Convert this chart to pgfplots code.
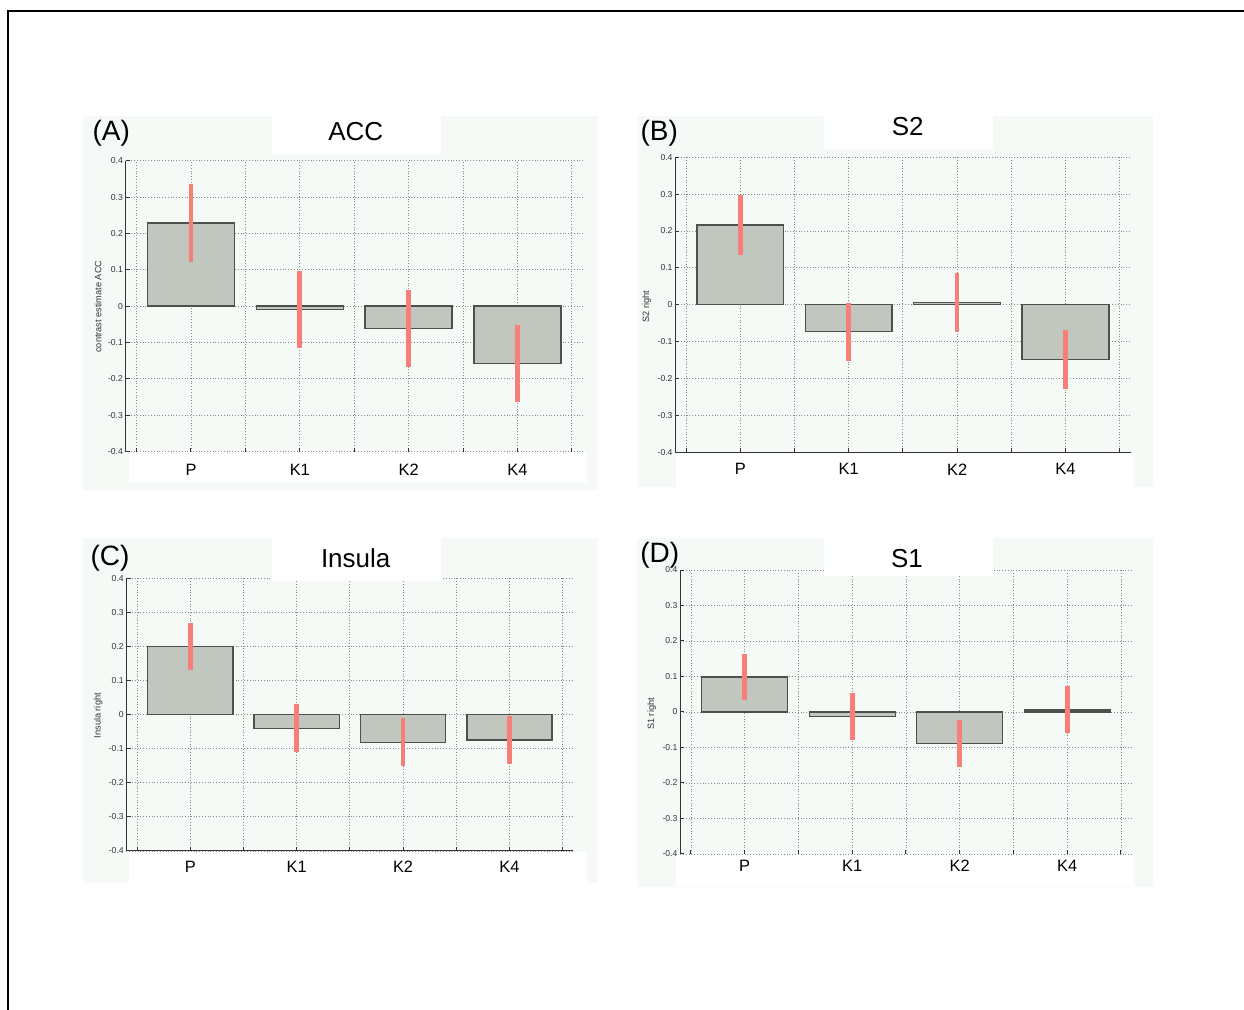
\documentclass[border=0pt]{standalone}
\usepackage{pgfplots}
\pgfplotsset{compat=1.18}
\usepackage{pgfplotstable}
\usepackage{fontspec}
\setmainfont{Liberation Sans}
\definecolor{bgc}{HTML}{F6FAF6}
\definecolor{barc}{HTML}{C1C7BF}
\definecolor{edgec}{HTML}{4E504E}
\definecolor{errc}{HTML}{F77F7A}
\definecolor{gridc}{HTML}{8A8A8A}
\definecolor{tickc}{HTML}{333333}

\pgfplotstableread{
x v e
1 0.229 0.107
2 -0.009 0.106
3 -0.061 0.106
4 -0.157 0.106
}\dA
\pgfplotstableread{
x v e
1 0.216 0.081
2 -0.073 0.079
3 0.007 0.080
4 -0.148 0.080
}\dB
\pgfplotstableread{
x v e
1 0.200 0.070
2 -0.040 0.070
3 -0.081 0.070
4 -0.074 0.071
}\dC
\pgfplotstableread{
x v e
1 0.099 0.064
2 -0.013 0.066
3 -0.089 0.066
4 0.006 0.066
}\dD

\pgfplotsset{
 panel/.style={
  scale only axis, anchor=south west,
  xmin=0.4, xmax=4.6, ymin=-0.4, ymax=0.4,
  axis lines=left, axis line style={-, draw=tickc, line width=0.5pt},
  xtick={0.5,1,1.5,2,2.5,3,3.5,4,4.5},
  xticklabels={,P,,K1,,K2,,K4,},
  ytick={-0.4,-0.3,-0.2,-0.1,0,0.1,0.2,0.3,0.4},
  yticklabels={-0.4,-0.3,-0.2,-0.1,0,0.1,0.2,0.3,0.4},
  tick align=inside, major tick length=2pt,
  tick style={draw=tickc, line width=0.5pt},
  grid=major, grid style={draw=gridc, line width=0.45pt, dash pattern=on 0.5pt off 0.9pt},
  yticklabel style={font=\fontsize{4.3}{5}\selectfont, text=tickc, inner sep=1.2pt},
  xticklabel style={font=\fontsize{8.2}{10}\selectfont, anchor=center},
  clip=false,
 },
 bars/.style={ybar, bar width=0.8, fill=barc, draw=edgec, line width=0.7pt},
 errs/.style={draw=none, mark=none, error bars/.cd, y dir=both, y explicit, error mark=none, error bar style={draw=errc, line width=2.35pt, solid}},
}

\begin{document}
\begin{tikzpicture}
\useasboundingbox (0pt,0pt) rectangle (622pt,505pt);
\fill[white] (0pt,0pt) rectangle (622pt,505pt);
\draw[line width=1pt] (4.15pt,-2.5pt) -- (4.15pt,499.5pt) -- (630pt,499.5pt);
% panel backgrounds
\fill[bgc] (41.5pt,260pt) rectangle (299pt,447pt);
\fill[bgc] (318.85pt,261.5pt) rectangle (576.5pt,447pt);
\fill[bgc] (41.5pt,63.5pt) rectangle (299pt,236pt);
\fill[bgc] (318.35pt,61.5pt) rectangle (576.5pt,236pt);
% bottom white boxes
\fill[white] (64.5pt,263.5pt) rectangle (293.5pt,279.5pt);
\fill[white] (337.85pt,261.5pt) rectangle (567pt,278.35pt);
\fill[white] (64.5pt,63.5pt) rectangle (293.5pt,79.15pt);
\fill[white] (337.85pt,62pt) rectangle (567pt,78pt);

\begin{axis}[panel, at={(62.85pt,279.15pt)}, width=228.5pt, height=145.5pt,
  x axis line style={draw=none}, xticklabel style={yshift=-9.15pt}]
\addplot[bars] table[x=x,y=v]{\dA};
\addplot[errs] table[x=x,y=v,y error=e]{\dA};
\end{axis}

\begin{axis}[panel, at={(337.65pt,278.85pt)}, width=227.6pt, height=147.5pt,
  xticklabel style={yshift=-8.5pt}]
\addplot[bars] table[x=x,y=v]{\dB};
\addplot[errs] table[x=x,y=v,y error=e]{\dB};
\end{axis}

\begin{axis}[panel, at={(63.25pt,79.5pt)}, width=223.4pt, height=136.35pt,
  xticklabel style={yshift=-7.8pt}]
\addplot[bars] table[x=x,y=v]{\dC};
\addplot[errs] table[x=x,y=v,y error=e]{\dC};
\end{axis}

\begin{axis}[panel, at={(340.1pt,78pt)}, width=225.75pt, height=142pt,
  x axis line style={draw=none}, xticklabel style={yshift=-6pt}]
\addplot[bars] table[x=x,y=v]{\dD};
\addplot[errs] table[x=x,y=v,y error=e]{\dD};
\end{axis}

% title boxes
\fill[white] (135.85pt,428pt) rectangle (220.5pt,447pt);
\fill[white] (412pt,430.5pt) rectangle (496.35pt,447pt);
\fill[white] (135.85pt,214.5pt) rectangle (220.5pt,236pt);
\fill[white] (412pt,217pt) rectangle (496.35pt,236pt);
% titles
\node[font=\fontsize{13}{15}\selectfont, inner sep=0] at (177.85pt,439.15pt) {ACC};
\node[font=\fontsize{13}{15}\selectfont, inner sep=0] at (453.85pt,441.5pt) {S2};
\node[font=\fontsize{13}{15}\selectfont, inner sep=0] at (177.85pt,225.65pt) {Insula};
\node[font=\fontsize{13}{15}\selectfont, inner sep=0] at (453.5pt,225.85pt) {S1};
% panel letters
\node[font=\fontsize{14}{16}\selectfont, inner sep=0] at (55.65pt,438.5pt) {(A)};
\node[font=\fontsize{14}{16}\selectfont, inner sep=0] at (329.6pt,438.35pt) {(B)};
\node[font=\fontsize{14}{16}\selectfont, inner sep=0] at (55pt,225.85pt) {(C)};
\node[font=\fontsize{14}{16}\selectfont, inner sep=0] at (329.85pt,227.5pt) {(D)};
% y labels
\node[font=\fontsize{4.6}{5}\selectfont, text=tickc, rotate=90, inner sep=0] at (49pt,351.65pt) {contrast estimate ACC};
\node[font=\fontsize{4.6}{5}\selectfont, text=tickc, rotate=90, inner sep=0] at (323.35pt,351.65pt) {S2 right};
\node[font=\fontsize{4.6}{5}\selectfont, text=tickc, rotate=90, inner sep=0] at (49.15pt,147.15pt) {Insula right};
\node[font=\fontsize{4.6}{5}\selectfont, text=tickc, rotate=90, inner sep=0] at (325.85pt,148pt) {S1 right};
\end{tikzpicture}
\end{document}
